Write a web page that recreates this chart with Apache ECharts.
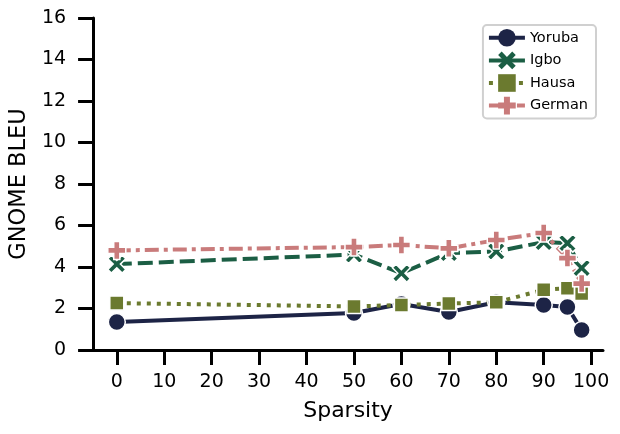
<!DOCTYPE html>
<html>
<head>
<meta charset="utf-8">
<script src="https://cdn.jsdelivr.net/npm/echarts@6/dist/echarts.min.js"></script>
<style>
  html, body { margin: 0; padding: 0; background: #fff; }
  #chart { width: 620px; height: 434px; }
</style>
</head>
<body>
<div id="chart"></div>
<script>
const sparsity = [0, 50, 60, 70, 80, 90, 95, 98];
const yoruba = [1.35, 1.78, 2.22, 1.83, 2.3, 2.17, 2.07, 0.96];
const igbo = [4.14, 4.6, 3.7, 4.67, 4.75, 5.2, 5.15, 3.95];
const hausa = [2.26, 2.1, 2.17, 2.24, 2.3, 2.9, 2.98, 2.72];
const german = [4.8, 4.96, 5.06, 4.9, 5.3, 5.64, 4.43, 3.2];
const xTicks = [0, 10, 20, 30, 40, 50, 60, 70, 80, 90, 100];

const font = "DejaVu Sans";
const xSymbol = "path://M0,2 L2,0 L5,3 L8,0 L10,2 L7,5 L10,8 L8,10 L5,7 L2,10 L0,8 L3,5 Z";
const plusSymbol = "path://M3.3,0 L6.7,0 L6.7,3.3 L10,3.3 L10,6.7 L6.7,6.7 L6.7,10 L3.3,10 L3.3,6.7 L0,6.7 L0,3.3 L3.3,3.3 Z";

const pairs = vals => sparsity.map((x, i) => [x, vals[i]]);

const makeSeries = (name, vals, color, dash, symbol, size) => ({
  name: name,
  type: "line",
  data: pairs(vals),
  symbol: symbol,
  symbolSize: size,
  showAllSymbol: true,
  lineStyle: { color: color, width: 4, type: dash },
  itemStyle: { color: color, borderColor: "#fff", borderWidth: 1.5 },
  emphasis: { disabled: true }
});

const chart = echarts.init(document.getElementById("chart"));
chart.setOption({
  animation: false,
  textStyle: { fontFamily: font },
  grid: { left: 91, right: 17, top: 18, bottom: 84 },
  legend: {
    orient: "vertical",
    right: 24,
    top: 25,
    padding: [4, 8, 4, 4],
    itemGap: 5,
    itemWidth: 36,
    itemHeight: 22,
    borderColor: "#d0d0d0",
    borderWidth: 2,
    borderRadius: 4,
    itemStyle: { borderWidth: 0 },
    lineStyle: { width: 4 },
    textStyle: { fontFamily: font, fontSize: 14.5, color: "#000" },
    data: ["Yoruba", "Igbo", "Hausa", "German"]
  },
  xAxis: {
    type: "value",
    min: -5,
    max: 102.5,
    name: "Sparsity",
    nameLocation: "middle",
    nameGap: 50,
    nameTextStyle: { fontSize: 22, color: "#000" },
    splitLine: { show: false },
    axisLine: { onZero: false, lineStyle: { color: "#000", width: 3 } },
    axisTick: { customValues: xTicks, length: 15, lineStyle: { color: "#000", width: 3 } },
    axisLabel: { customValues: xTicks, margin: 23, fontSize: 19, color: "#000" }
  },
  yAxis: {
    type: "value",
    min: 0,
    max: 16,
    interval: 2,
    name: "GNOME BLEU",
    nameLocation: "middle",
    nameGap: 56,
    nameTextStyle: { fontSize: 22.5, color: "#000" },
    splitLine: { show: false },
    axisLine: { show: true, onZero: false, lineStyle: { color: "#000", width: 3 } },
    axisTick: { show: true, length: 15, lineStyle: { color: "#000", width: 3 } },
    axisLabel: { margin: 27, fontSize: 19, color: "#000" }
  },
  series: [
    makeSeries("Yoruba", yoruba, "#1d2446", "solid", "circle", 17),
    makeSeries("Igbo", igbo, "#1b5e44", [15, 6], xSymbol, 18),
    makeSeries("Hausa", hausa, "#6b7a2f", [4, 6], "rect", 14),
    makeSeries("German", german, "#c97b7b", [14, 5, 4, 5], plusSymbol, 18)
  ]
});
</script>
</body>
</html>
